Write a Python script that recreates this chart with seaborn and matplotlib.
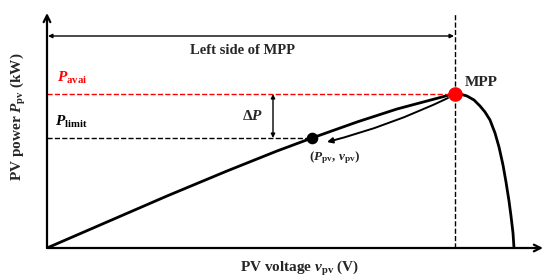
import seaborn as sns
import matplotlib.pyplot as plt

sns.set_theme(style="white")
plt.rcParams['font.family'] = ['Liberation Serif', 'DejaVu Serif']
plt.rcParams['mathtext.fontset'] = 'custom'
plt.rcParams['mathtext.rm'] = 'Liberation Serif:bold'
plt.rcParams['mathtext.bf'] = 'Liberation Serif:bold'
plt.rcParams['mathtext.it'] = 'Liberation Serif:italic:bold'

# P-V curve (arbitrary units)
voltage = [0, 60, 120, 180, 230, 265, 310, 350, 380, 395, 402, 408, 413, 420, 427,
           433, 438, 443, 448, 452, 456, 459, 462, 464, 466, 467]
power = [0, 26, 52, 77, 97, 110, 126, 139, 147, 151, 153, 154, 154, 152, 148,
         142, 136, 128, 115, 101, 83, 66, 47, 32, 15, 0]

v_mpp, p_mpp = 408, 154      # maximum power point
v_op, p_op = 265, 110        # operating point (P_pv, v_pv)

fig = plt.figure(figsize=(5.44, 2.78), dpi=100)
ax = fig.add_axes([47/544, 30/278, 496/544, 235/278])
ax.set_xlim(0, 496)
ax.set_ylim(0, 235)
ax.set_xticks([])
ax.set_yticks([])
sns.despine(ax=ax, left=True, bottom=True)

# axes with arrows
ax.annotate('', xy=(0, 1), xytext=(0, 0), xycoords='axes fraction',
            arrowprops=dict(arrowstyle='->', lw=1.6, color='black', shrinkA=0, shrinkB=0))
ax.annotate('', xy=(1, 0), xytext=(0, 0), xycoords='axes fraction',
            arrowprops=dict(arrowstyle='->', lw=1.6, color='black', shrinkA=0, shrinkB=0))

sns.lineplot(x=voltage, y=power, ax=ax, color='black', lw=2)

# reference lines
ax.plot([0, v_mpp], [p_mpp, p_mpp], ls='--', color='red', lw=1)
ax.plot([0, v_op], [p_op, p_op], ls='--', color='black', lw=1)
ax.plot([v_mpp, v_mpp], [0, 235], ls='--', color='black', lw=1)

# left side of MPP arrow
ax.annotate('', xy=(1, 212), xytext=(v_mpp - 1, 212),
            arrowprops=dict(arrowstyle='<|-|>', lw=1, color='black', mutation_scale=6,
                            shrinkA=0, shrinkB=0))
ax.text(195, 198, 'Left side of MPP', ha='center', va='center', fontsize=10.5, fontweight='bold')

# delta P arrow
ax.annotate('', xy=(226, p_op), xytext=(226, p_mpp),
            arrowprops=dict(arrowstyle='<|-|>', lw=1, color='black', mutation_scale=6,
                            shrinkA=0, shrinkB=0))
ax.text(205, 132, r'$\Delta P$', ha='center', va='center', fontsize=11)

# direction of movement
ax.annotate('', xy=(280, 106), xytext=(401, 150),
            arrowprops=dict(arrowstyle='-|>', lw=1.4, color='black', mutation_scale=8,
                            shrinkA=0, shrinkB=0, connectionstyle='arc3,rad=-0.05'))

sns.scatterplot(x=[v_op], y=[p_op], ax=ax, color='black', s=70, zorder=5, linewidth=0)
sns.scatterplot(x=[v_mpp], y=[p_mpp], ax=ax, color='red', s=110, zorder=5, linewidth=0)

ax.text(10, 162, r'$P_{\mathrm{avai}}$', color='red', fontsize=11, ha='left', va='bottom')
ax.text(8, 118, r'$P_{\mathrm{limit}}$', color='black', fontsize=11, ha='left', va='bottom')
ax.text(418, 166, 'MPP', fontsize=11, fontweight='bold', ha='left', va='center')
ax.text(288, 90, r'$(P_{\mathrm{pv}},\,v_{\mathrm{pv}})$', fontsize=9.5, ha='center', va='center')

fig.text(300/544, 1 - 268/278, r'PV voltage $v_{\mathrm{pv}}$ (V)', ha='center', va='center',
         fontsize=11, fontweight='bold')
fig.text(18/544, 1 - 117/278, r'PV power $P_{\mathrm{pv}}$ (kW)', ha='center', va='center',
         rotation=90, fontsize=11, fontweight='bold')

fig.savefig('out.png', dpi=100)
